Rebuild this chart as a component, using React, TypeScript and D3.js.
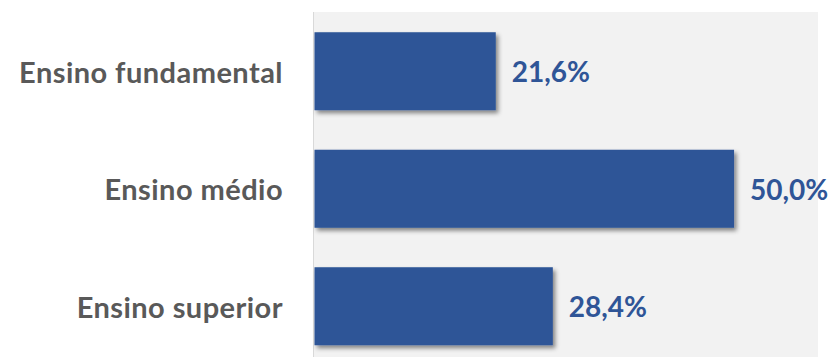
import React from "react";
import * as d3 from "d3";

const categories = ["Ensino fundamental", "Ensino médio", "Ensino superior"];
const values = [21.6, 50.0, 28.4];
const valueLabels = ["21,6%", "50,0%", "28,4%"];

const W = 834;
const H = 357;

export default function App() {
  const x = d3.scaleLinear().domain([0, 60]).range([314.5, 818]);
  const y = d3
    .scaleBand<string>()
    .domain(categories)
    .range([12.5, 365])
    .paddingInner(0.336)
    .paddingOuter(0.168);
  const font = "Lato, 'Open Sans', sans-serif";
  return (
    <svg
      width={W}
      height={H}
      style={{ position: "absolute", left: 0, top: 0, display: "block" }}
    >
      <defs>
        <filter id="sh" x="-10%" y="-20%" width="130%" height="150%">
          <feDropShadow dx="2.5" dy="3" stdDeviation="2" floodColor="#000" floodOpacity="0.45" />
        </filter>
      </defs>
      <rect x={0} y={0} width={W} height={H} fill="#ffffff" />
      <rect x={314} y={12} width={818 - 314} height={H - 12} fill="#f2f2f2" />
      <line x1={313.5} x2={313.5} y1={12} y2={H} stroke="#d9d9d9" strokeWidth={1} />
      {categories.map((c, i) => {
        const by = y(c)!;
        const bh = y.bandwidth();
        const bx = x(0);
        const bw = x(values[i]) - x(0);
        const cy = by + bh / 2;
        return (
          <g key={c}>
            <rect x={bx} y={by} width={bw} height={bh} fill="#2F5597" filter="url(#sh)" />
            <text
              x={283}
              y={cy}
              textAnchor="end"
              dominantBaseline="central"
              fontFamily={font}
              fontWeight={700}
              fontSize={29}
              letterSpacing={0.45}
              fill="#595959"
            >
              {c}
            </text>
            <text
              x={x(values[i]) + 16}
              y={cy}
              textAnchor="start"
              dominantBaseline="central"
              fontFamily={font}
              fontWeight={700}
              fontSize={28}
              fill="#2F5597"
            >
              {valueLabels[i]}
            </text>
          </g>
        );
      })}
    </svg>
  );
}
